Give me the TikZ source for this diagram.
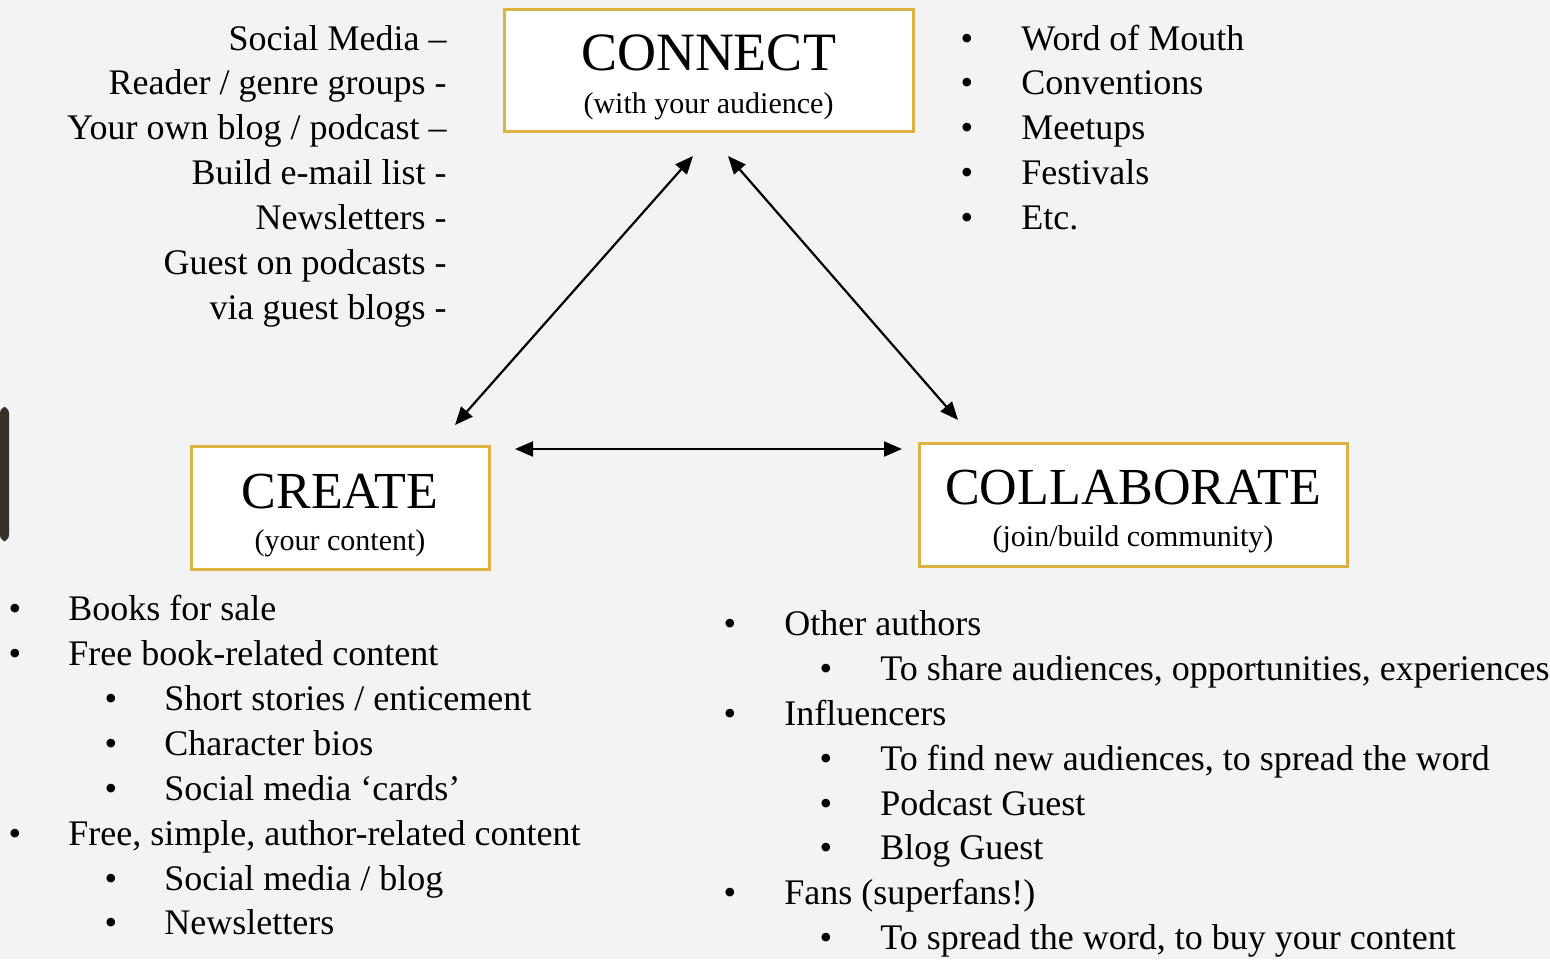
\documentclass[tikz,border=0pt]{standalone}
\usepackage{fontspec}
\setmainfont{Liberation Serif}
\usetikzlibrary{arrows.meta}
\definecolor{paper}{HTML}{F3F3F3}
\definecolor{gold}{HTML}{DDB244}
\definecolor{barbrown}{HTML}{3A3028}

\begin{document}
\begin{tikzpicture}[x=0.5pt,y=-0.5pt,
  box/.style={draw=gold, line width=1.5pt, fill=white, rectangle, inner sep=0pt},
  headline/.style={anchor=base, inner sep=0pt, font=\fontsize{27}{30}\selectfont},
  subline/.style={anchor=base, inner sep=0pt, font=\fontsize{15}{18}\selectfont},
  ltxt/.style={anchor=base east, inner sep=0pt, font=\fontsize{18}{22}\selectfont},
  itm/.style={anchor=base west, inner sep=0pt, font=\fontsize{18}{22}\selectfont},
  bul/.style={anchor=base, inner sep=0pt, font=\fontsize{18}{22}\selectfont},
  link/.style={line width=1.1pt, {Triangle[length=9pt,width=7.5pt]}-{Triangle[length=9pt,width=7.5pt]}}
]
% page and background
\useasboundingbox (0,0) rectangle (1550,959);
\fill[paper] (0,0) rectangle (1550,959);
\fill[barbrown, rounded corners=3pt] (0,407) rectangle (9,541);

% the three boxes
\node[box, minimum width=204.5pt, minimum height=61pt] (connect) at (708.5,70) {};
\node[headline] (connectT) at (708.5,70) {CONNECT};
\node[subline] (connectS) at (708.5,113) {(with your audience)};

\node[box, minimum width=149pt, minimum height=61.5pt] (create) at (340,507.5) {};
\node[headline, font=\fontsize{26}{30}\selectfont] (createT) at (340,508) {CREATE};
\node[subline] (createS) at (340,550) {(your content)};

\node[box, minimum width=214pt, minimum height=61.5pt] (collab) at (1133,504.5) {};
\node[headline, font=\fontsize{26}{30}\selectfont] (collabT) at (1133,504) {COLLABORATE};
\node[subline] (collabS) at (1133,546) {(join/build community)};

% arrows between the corners
\coordinate (cl) at (455,425);
\coordinate (ct1) at (693,156);
\coordinate (ct2) at (728,156);
\coordinate (cr) at (958,420);
\coordinate (hl) at (515,449);
\coordinate (hr) at (902,449);
\draw[link] (cl) -- (ct1);
\draw[link] (ct2) -- (cr);
\draw[link] (hl) -- (hr);

% connect: online channels
\node[ltxt] (o1) at (447,50) {Social Media –};
\node[ltxt] (o2) at (447,94) {Reader / genre groups -};
\node[ltxt] (o3) at (447,139) {Your own blog / podcast –};
\node[ltxt] (o4) at (447,184) {Build e-mail list -};
\node[ltxt] (o5) at (447,229) {Newsletters -};
\node[ltxt] (o6) at (447,274) {Guest on podcasts -};
\node[ltxt] (o7) at (447,319) {via guest blogs -};

% connect: in person
\foreach \y/\t [count=\i] in {50/Word of Mouth, 94/Conventions, 139/Meetups, 184/Festivals, 229/Etc.}{
  \node[bul] (pb\i) at (967,\y) {•};
  \node[itm] (p\i) at (1021,\y) {\t};
}

% create: content list
\node[bul] (cb1) at (15,620) {•};  \node[itm] (c1) at (68,620) {Books for sale};
\node[bul] (cb2) at (15,665) {•};  \node[itm] (c2) at (68,665) {Free book-related content};
\node[bul] (cb3) at (111,710) {•}; \node[itm] (c3) at (164,710) {Short stories / enticement};
\node[bul] (cb4) at (111,755) {•}; \node[itm] (c4) at (164,755) {Character bios};
\node[bul] (cb5) at (111,800) {•}; \node[itm] (c5) at (164,800) {Social media ‘cards’};
\node[bul] (cb6) at (15,845) {•};  \node[itm] (c6) at (68,845) {Free, simple, author-related content};
\node[bul] (cb7) at (111,890) {•}; \node[itm] (c7) at (164,890) {Social media / blog};
\node[bul] (cb8) at (111,934) {•}; \node[itm] (c8) at (164,934) {Newsletters};

% collaborate: partners list
\node[bul] (kb1) at (730,635) {•}; \node[itm] (k1) at (784,635) {Other authors};
\node[bul] (kb2) at (826,680) {•}; \node[itm] (k2) at (880,680) {To share audiences, opportunities, experiences};
\node[bul] (kb3) at (730,725) {•}; \node[itm] (k3) at (784,725) {Influencers};
\node[bul] (kb4) at (826,770) {•}; \node[itm] (k4) at (880,770) {To find new audiences, to spread the word};
\node[bul] (kb5) at (826,815) {•}; \node[itm] (k5) at (880,815) {Podcast Guest};
\node[bul] (kb6) at (826,859) {•}; \node[itm] (k6) at (880,859) {Blog Guest};
\node[bul] (kb7) at (730,904) {•}; \node[itm] (k7) at (784,904) {Fans (superfans!)};
\node[bul] (kb8) at (826,949) {•}; \node[itm] (k8) at (880,949) {To spread the word, to buy your content};
\end{tikzpicture}
\end{document}
